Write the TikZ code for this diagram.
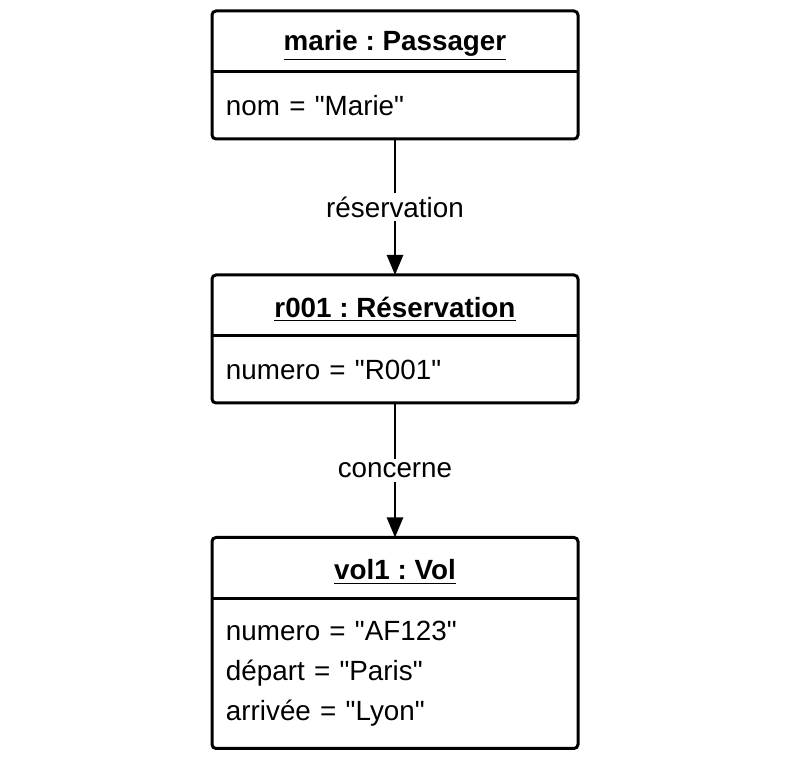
\documentclass[tikz,border=0pt]{standalone}
\usepackage{fontspec}
\setmainfont{Liberation Sans}
\usetikzlibrary{positioning, arrows.meta}
\newcommand{\objfont}{\fontsize{13.9}{20}\selectfont}
\newcommand{\qv}[1]{\textquotedbl#1\textquotedbl}
\newcommand{\objname}[1]{\raisebox{-2pt}[\height][\depth]{\underline{#1}}}
\frenchspacing
\tikzset{%
  objtitle/.style = {minimum width = 183pt, minimum height = 30.5pt,
    inner sep = 0pt, outer sep = 0pt, font = \objfont\bfseries},
  objattr/.style  = {text width = 169pt, inner xsep = 7pt, inner ysep = 0pt,
    outer sep = 0pt, align = left, font = \objfont},
  objbox/.style   = {draw, line width = 1.5pt, rounded corners = 2pt},
  link/.style     = {-{Triangle[length = 10pt, width = 8pt]}, line width = 1.3pt},
  role/.style     = {fill = white, inner sep = 2pt, font = \objfont}
}

\begin{document}
\begin{tikzpicture}[x = 0.5pt, y = -0.5pt]
\useasboundingbox (0,0) rectangle (800,763);
% objects
\node [objtitle] (tP) at (395,41.5) {\objname{marie : Passager}};
\node [objattr, minimum height = 33.5pt, below = 0pt of tP] (aP) {nom = \qv{Marie}};
\node [objtitle] (tR) at (395,305.5) {\objname{r001 : Réservation}};
\node [objattr, minimum height = 33.5pt, below = 0pt of tR] (aR) {numero = \qv{R001}};
\node [objtitle] (tV) at (395,568) {\objname{vol1 : Vol}};
\node [objattr, minimum height = 75pt, below = 0pt of tV] (aV)
  {numero = \qv{AF123}\\ départ = \qv{Paris}\\ arrivée = \qv{Lyon}};
% boxes
\draw[objbox] (tP.north west) rectangle (aP.south east);
\draw[objbox] (tP.south west) -- (tP.south east);
\draw[objbox] (tR.north west) rectangle (aR.south east);
\draw[objbox] (tR.south west) -- (tR.south east);
\draw[objbox] (tV.north west) rectangle (aV.south east);
\draw[objbox] (tV.south west) -- (tV.south east);
% links
\draw[link] (aP) -- node [role] {réservation} (tR);
\draw[link] (aR) -- node [role] {concerne} (tV);
\end{tikzpicture}
\end{document}
